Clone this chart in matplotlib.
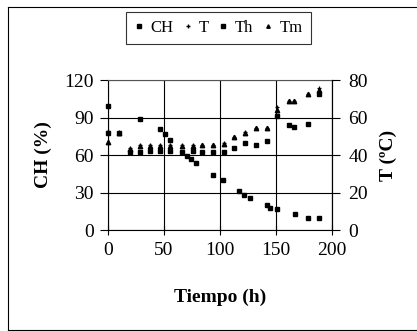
import matplotlib
matplotlib.use('Agg')
import matplotlib.pyplot as plt
from matplotlib.lines import Line2D

plt.rcParams['font.family'] = ['Liberation Serif', 'DejaVu Serif']

# humidity (left axis)
t_ch = [0, 29, 47, 51, 56, 71, 74, 79, 94, 103, 117, 122, 127, 142, 145,
        151, 167, 179, 189]
ch = [99, 89, 80.5, 77, 72, 59.5, 56.5, 53.5, 44, 40, 31.5, 28, 25.5, 20,
      18, 16.5, 13, 9.5, 9.5]

# temperatures (right axis)
t_temp = [0, 10, 20, 29, 38, 47, 56, 66, 76, 84, 94, 104, 113, 123, 132,
          142, 151, 162, 166, 179, 189]
temp_t = [53, 52.5, 43.5, 45.5, 45.5, 45.5, 45.5, 45.5, 45.5, 45.5, 45.5,
          46.5, 49.5, 52.5, 54.5, 54.5, 65.5, 69, 69, 72.5, 75.5]
temp_th = [52, 52, 41.8, 41.6, 42.3, 42.3, 42.3, 41.8, 42.3, 41.8, 41.8,
           41.8, 44, 46.5, 45.5, 47.5, 61, 56, 55, 56.5, 72.5]
temp_tm = [47, 52, 43, 45, 45, 45, 45, 45, 45, 45.5, 45.5, 46, 49.5, 51.5,
           54.5, 54.5, 64, 69, 69, 72.5, 74.5]

x_ticks = [0, 50, 100, 150, 200]
ch_ticks = [0, 30, 60, 90, 120]
t_ticks = [0, 20, 40, 60, 80]

fig = plt.figure(figsize=(4.17, 3.31), dpi=100)
ax = fig.add_axes([0.2583, 0.3051, 0.5372, 0.4532])
ax2 = ax.twinx()

ax.set_xlim(0, 200)
ax.set_ylim(0, 120)
ax2.set_ylim(0, 80)
ax.set_xticks(x_ticks)
ax.set_yticks(ch_ticks)
ax2.set_yticks(t_ticks)

ax.grid(True, color='black', linewidth=0.8)
ax.set_axisbelow(True)
for s in ('left', 'bottom'):
    ax.spines[s].set_linewidth(0.8)
ax.spines['top'].set_color('#555555')
ax.spines['top'].set_linewidth(0.8)
ax2.spines['right'].set_linewidth(0.8)
for s in ('left', 'top', 'bottom'):
    ax2.spines[s].set_visible(False)

ax.tick_params(axis='x', direction='inout', length=7, width=0.8,
               labelsize=14, pad=5)
ax.tick_params(axis='y', direction='out', length=6, width=0.8,
               labelsize=14, pad=4)
ax2.tick_params(axis='y', direction='out', length=6, width=0.8,
                labelsize=14, pad=6)

ax.plot(t_ch, ch, 's', color='black', markersize=3.2, label='CH',
        clip_on=False, zorder=5)
ax2.plot(t_temp, temp_t, '+', color='black', markersize=3.5,
         markeredgewidth=0.9, label='T', clip_on=False)
ax2.plot(t_temp, temp_th, 's', color='black', markersize=2.7, label='Th',
         clip_on=False)
ax2.plot(t_temp, temp_tm, '^', color='black', markersize=3.2, label='Tm',
         clip_on=False)

ax.set_xlabel('Tiempo (h)', fontsize=14, fontweight='bold')
ax.xaxis.set_label_coords(0.5, -0.447)
ax.xaxis.label.set_va('center')
ax.set_ylabel('CH (%)', fontsize=14, fontweight='bold')
ax.yaxis.set_label_coords(-0.289, 0.5)
ax.yaxis.label.set_va('center')
ax2.set_ylabel('T (ºC)', fontsize=14, fontweight='bold')
ax2.yaxis.set_label_coords(1.251, 0.5)
ax2.yaxis.label.set_va('center')

handles = [Line2D([], [], ls='none', marker='s', color='black', markersize=2.5),
           Line2D([], [], ls='none', marker='+', color='black', markersize=3),
           Line2D([], [], ls='none', marker='s', color='black', markersize=2.5),
           Line2D([], [], ls='none', marker='^', color='black', markersize=2.5)]
leg = fig.legend(handles, ['CH', 'T', 'Th', 'Tm'], ncol=4,
                 loc='center', bbox_to_anchor=(0.524, 0.9154),
                 fontsize=12, frameon=True, fancybox=False,
                 handlelength=0.5, handletextpad=0.45, columnspacing=0.6,
                 borderpad=0.5, borderaxespad=0)
leg.get_frame().set_edgecolor('black')
leg.get_frame().set_linewidth(0.8)

# outer chart border
x0 = 8 / 417
y0 = 1 - 7 / 331
y1 = 1 - 330 / 331
fig.add_artist(Line2D([x0, x0], [y1, y0], color='black', linewidth=0.8,
                      transform=fig.transFigure))
fig.add_artist(Line2D([x0, 1], [y0, y0], color='black', linewidth=0.8,
                      transform=fig.transFigure))
fig.add_artist(Line2D([x0, 1], [y1, y1], color='black', linewidth=0.8,
                      transform=fig.transFigure))

fig.savefig('out.png', dpi=100)
